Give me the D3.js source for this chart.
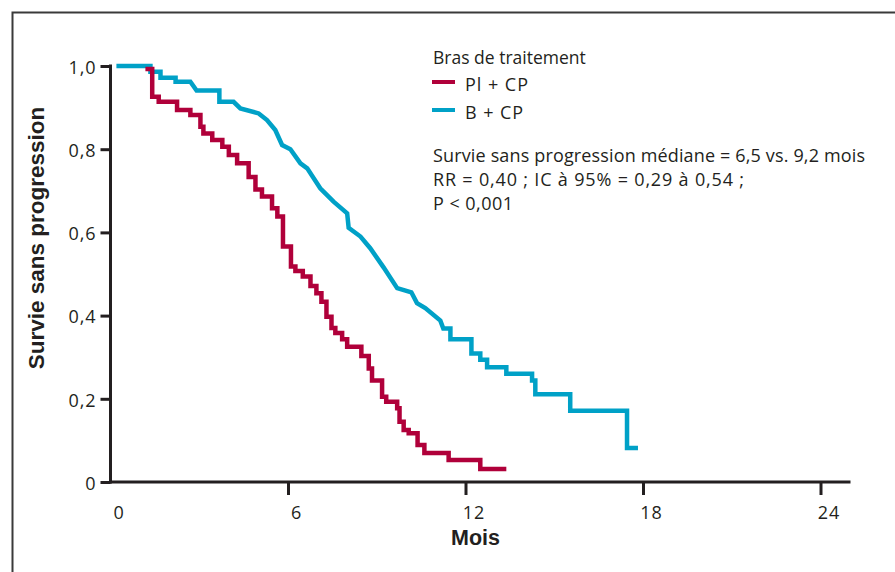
<!DOCTYPE html>
<html>
<head>
<meta charset="utf-8">
<script src="https://cdn.jsdelivr.net/npm/d3@7"></script>
<style>
  html, body { margin: 0; padding: 0; background: #fff; }
  svg { display: block; }
  .lbl { font-family: "Open Sans", sans-serif; fill: #231f20; }
  .ttl { font-family: "Liberation Sans", Arial, sans-serif; font-weight: bold; fill: #231f20; }
</style>
</head>
<body>
<svg id="chart" width="895" height="572"></svg>
<script>
// ---- Data ----
const xTickValues = [0, 6, 12, 18, 24];
const yTickValues = [0, 0.2, 0.4, 0.6, 0.8, 1.0];
const yTickLabels = ["0", "0,2", "0,4", "0,6", "0,8", "1,0"];

// Pl + CP : Kaplan-Meier steps (time in months, survival from that time on)
const redTimes = [1.18, 1.41, 1.63, 2.25, 2.70, 3.04, 3.14, 3.44, 3.78, 4.00, 4.28, 4.67, 4.90, 5.12,
  5.46, 5.64, 5.83, 6.10, 6.25, 6.50, 6.76, 6.96, 7.13, 7.30, 7.47, 7.60, 7.83, 8.00, 8.48, 8.73,
  8.84, 9.18, 9.32, 9.69, 9.77, 9.91, 10.08, 10.38, 10.61, 11.43, 12.50, 13.38];
const redValues = [0.993, 0.926, 0.914, 0.894, 0.882, 0.854, 0.838, 0.822, 0.806, 0.786, 0.766, 0.733,
  0.703, 0.686, 0.658, 0.638, 0.566, 0.518, 0.507, 0.494, 0.471, 0.454, 0.433, 0.397, 0.370, 0.358,
  0.343, 0.325, 0.303, 0.273, 0.244, 0.205, 0.193, 0.177, 0.145, 0.125, 0.117, 0.089, 0.070, 0.053,
  0.031, 0.031];

// B + CP : curve vertices (time in months, survival)
const blueTimes = [0.2, 1.35, 1.35, 1.69, 1.69, 2.20, 2.20, 2.70, 2.91, 3.68, 3.68, 4.16, 4.39, 5.01,
  5.29, 5.57, 5.80, 6.08, 6.42, 6.65, 7.09, 7.54, 8.00, 8.05, 8.45, 8.78, 9.23, 9.69, 10.17, 10.36,
  10.64, 11.15, 11.25, 11.49, 11.49, 12.20, 12.20, 12.50, 12.50, 12.73, 12.73, 13.38, 13.38, 14.25,
  14.25, 14.36, 14.36, 15.54, 15.54, 17.46, 17.46, 17.83];
const blueValues = [1.0, 1.0, 0.986, 0.986, 0.972, 0.972, 0.962, 0.962, 0.941, 0.941, 0.914, 0.914,
  0.898, 0.886, 0.870, 0.846, 0.810, 0.800, 0.766, 0.754, 0.706, 0.674, 0.646, 0.611, 0.590, 0.562,
  0.516, 0.466, 0.456, 0.430, 0.418, 0.388, 0.369, 0.369, 0.343, 0.343, 0.309, 0.309, 0.294, 0.294,
  0.276, 0.276, 0.260, 0.260, 0.244, 0.244, 0.211, 0.211, 0.171, 0.171, 0.082, 0.082];

const seriesNames = ["Pl + CP", "B + CP"];
const seriesColors = ["#b0003a", "#00a1c7"];
const legendTitle = "Bras de traitement";
const statLines = [
  "Survie sans progression médiane = 6,5 vs. 9,2 mois",
  "RR = 0,40 ; IC à 95% = 0,29 à 0,54 ;",
  "P < 0,001"
];
const xTitle = "Mois";
const yTitle = "Survie sans progression";

// ---- Drawing ----
const svg = d3.select("#chart");
const ink = "#231f20";

// outer frame
svg.append("rect")
  .attr("x", 12.5).attr("y", 12.5)
  .attr("width", 1000).attr("height", 1000)
  .attr("fill", "none").attr("stroke", "#3a3a3a").attr("stroke-width", 2);

const x = d3.scaleLinear().domain([0, 24]).range([110.5, 820.5]);
const y = d3.scaleLinear().domain([0, 1]).range([482, 66]);

// Y axis
const yAxis = svg.append("g").attr("transform", `translate(${x(0)},0)`)
  .call(d3.axisLeft(y).tickValues(yTickValues).tickSize(10).tickPadding(4)
    .tickFormat((d, i) => yTickLabels[i]));
yAxis.select(".domain").remove();
yAxis.selectAll(".tick line").attr("stroke", ink).attr("stroke-width", 3);
yAxis.selectAll(".tick text").attr("class", "lbl").style("font-size", "18px")
  .style("letter-spacing", "0.9px")
  .attr("dy", "0.4em").attr("font-family", null);
svg.append("line")
  .attr("x1", x(0)).attr("x2", x(0)).attr("y1", y(1) - 1.5).attr("y2", y(0) + 1.5)
  .attr("stroke", ink).attr("stroke-width", 3);

// X axis
const xAxis = svg.append("g").attr("transform", `translate(0,${y(0)})`)
  .call(d3.axisBottom(x).tickValues(xTickValues).tickSize(13).tickPadding(11)
    .tickFormat(d3.format("d")));
xAxis.select(".domain").remove();
xAxis.selectAll(".tick line").attr("stroke", ink).attr("stroke-width", 3)
  .filter(d => d === 0).remove();
xAxis.selectAll(".tick text").attr("class", "lbl").style("font-size", "18px")
  .style("letter-spacing", "0.9px")
  .attr("dx", 8).attr("font-family", null);
svg.append("line")
  .attr("x1", x(0) - 1.5).attr("x2", x(24) + 30).attr("y1", y(0)).attr("y2", y(0))
  .attr("stroke", ink).attr("stroke-width", 3);

// axis titles
svg.append("text").attr("class", "ttl")
  .attr("x", (x(0) + x(24)) / 2 + 10).attr("y", 545)
  .attr("text-anchor", "middle").style("font-size", "21.5px").text(xTitle);
svg.append("text").attr("class", "ttl")
  .attr("transform", "translate(43.5,238) rotate(-90)")
  .attr("text-anchor", "middle").style("font-size", "22.5px").text(yTitle);

// curves
const blueData = blueTimes.map((t, i) => [t, blueValues[i]]);
const redData = redTimes.map((t, i) => [t, redValues[i]]);

svg.append("path").datum(blueData)
  .attr("fill", "none").attr("stroke", seriesColors[1]).attr("stroke-width", 4.5)
  .attr("stroke-linejoin", "miter")
  .attr("d", d3.line().x(d => x(d[0])).y(d => y(d[1])));

svg.append("path").datum(redData)
  .attr("fill", "none").attr("stroke", seriesColors[0]).attr("stroke-width", 4.5)
  .attr("stroke-linejoin", "miter")
  .attr("d", d3.line().curve(d3.curveStepAfter).x(d => x(d[0])).y(d => y(d[1])));

// legend
const lg = svg.append("g");
lg.append("text").attr("class", "lbl").attr("x", 433).attr("y", 64)
  .style("font-size", "17.5px").text(legendTitle);
const nameWidths = [63, 58];
seriesNames.forEach((name, i) => {
  const cy = 82 + i * 28;
  lg.append("line").attr("x1", 432).attr("x2", 455).attr("y1", cy).attr("y2", cy)
    .attr("stroke", seriesColors[i]).attr("stroke-width", 4);
  lg.append("text").attr("class", "lbl").attr("x", 465).attr("y", cy + 8.5)
    .style("font-size", "18px").attr("textLength", nameWidths[i])
    .attr("lengthAdjust", "spacing").text(name);
});
const statWidths = [432, 311, 80];
statLines.forEach((s, i) => {
  lg.append("text").attr("class", "lbl").attr("x", 433).attr("y", 162 + i * 23.8)
    .style("font-size", "18px").attr("textLength", statWidths[i])
    .attr("lengthAdjust", "spacing").text(s);
});
</script>
</body>
</html>
